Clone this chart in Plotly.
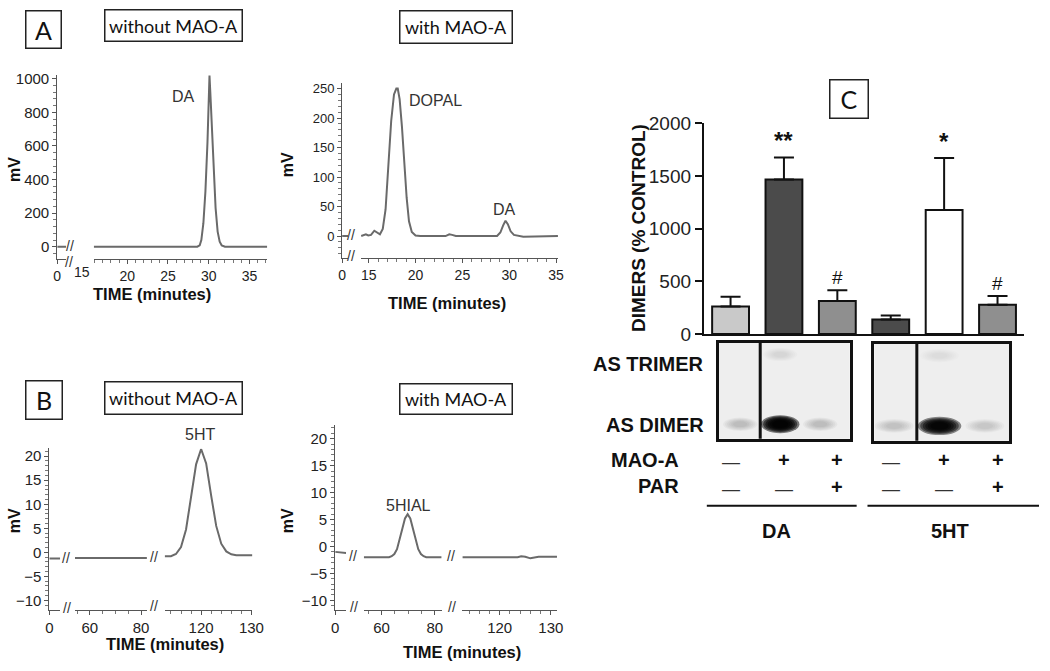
import plotly.graph_objects as go

W, H = 1050, 671
def fx(p): return p / W
def fy(p): return 1 - p / H

ARIAL = "Liberation Sans, Arial, Helvetica, sans-serif"
LATO = "Lato, Carlito, Calibri, sans-serif"

# ---------------- DATA ----------------
# Panel A - DA incubation chromatograms (time in minutes, signal in mV)
a_left_time = [15.9, 18.0, 20.0, 22.0, 23.6, 24.2, 24.8, 26.0, 28.6, 28.9, 29.1, 29.35, 29.6, 29.85, 30.0,
               30.1, 30.2, 30.35, 30.6, 30.85, 31.1, 31.35, 31.6, 32.0, 34.0, 37.2]
a_left_mv = [0, 0, 0, 0, 1, 4, 1, 0, 0, 8, 40, 140, 330, 620, 850,
             1020, 920, 760, 470, 230, 90, 30, 8, 0, 0, 0]
a_stub_time = [0, 1]
a_left_stub_mv = [0, 0]
a_right_stub_mv = [0, 0]
a_right_time = [14.2, 14.45, 14.7, 14.95, 15.25, 15.6, 15.9, 16.2, 16.5, 16.8, 17.1, 17.4, 17.7, 17.95, 18.1,
                18.3, 18.55, 18.8, 19.05, 19.3, 19.6, 20.0, 20.5, 23.2, 23.6, 23.9, 24.3, 28.7, 29.05, 29.35,
                29.6, 29.85, 30.15, 30.5, 31.0, 31.5, 35.2]
a_right_mv = [0, 2, 3, 1, 2, 9, 6, 3, 12, 45, 120, 195, 240, 250, 250,
              232, 185, 125, 65, 25, 7, 1, 0, 0, 3, 2, 0, 0, 6, 18,
              26, 20, 8, 2, 0, -1, 0]

# Panel B - 5HT incubation chromatograms (broken time axis)
b_stub_time = [0, 1]
b_left_stub_mv = [-1.3, -1.3]
b_left_mid_time = [54.2, 62, 70, 78, 82.3]
b_left_mid_mv = [-1.2, -1.2, -1.2, -1.2, -1.2]
b_left_late_time = [112.75, 114, 115, 116, 117, 118, 119, 120, 121, 122, 123, 124, 125, 126, 127, 130.2]
b_left_late_mv = [-0.8, -0.8, -0.35, 1.1, 4.75, 11.2, 18.3, 21.5, 18.5, 11.8, 5.5, 1.8, 0.2, -0.4, -0.6, -0.6]
b_right_stub_mv = [-1.0, -1.2]
b_right_mid_time = [53.3, 60, 62.8, 63.8, 64.8, 65.8, 66.8, 67.8, 68.8, 69.8, 70.8, 71.8, 72.8, 73.8, 74.8,
                    75.8, 76.8, 82.6]
b_right_mid_mv = [-2, -2, -2, -1.8, -1.4, -0.5, 1.2, 3.3, 5.2, 6.0, 5.2, 3.3, 1.2, -0.5, -1.4,
                  -1.8, -2, -2]
b_right_late_time = [112.7, 120, 123.5, 124.2, 125, 126, 127, 127.6, 131.2]
b_right_late_mv = [-2, -2, -2, -1.8, -1.9, -2.2, -2.0, -1.9, -1.9]

# Panel C - dimers (% control)
c_group = ["DA", "DA", "DA", "5HT", "5HT", "5HT"]
c_mean = [262, 1468, 314, 138, 1178, 277]
c_sem = [92, 209, 101, 37, 493, 83]
c_sig = ["", "**", "#", "", "*", "#"]
c_mao = ["—", "+", "+", "—", "+", "+"]
c_par = ["—", "—", "+", "—", "—", "+"]
group_names = ["DA", "5HT"]

# Western blot bands (gel, lane, row, relative intensity)
band_gel = ["DA", "DA", "DA", "DA", "5HT", "5HT", "5HT", "5HT"]
band_lane = [0, 1, 1, 2, 0, 1, 1, 2]
band_row = ["AS DIMER", "AS DIMER", "AS TRIMER", "AS DIMER", "AS DIMER", "AS DIMER", "AS TRIMER", "AS DIMER"]
band_int = [0.2, 1.0, 0.1, 0.2, 0.18, 0.97, 0.06, 0.15]
row_names = ["AS DIMER", "AS TRIMER"]

# ---------------- FIGURE ----------------
fig = go.Figure()
LINE = dict(color="#6a6a6a", width=2)

def add_line(x, y, xa, ya):
    fig.add_trace(go.Scatter(x=x, y=y, mode="lines", line=LINE, xaxis=xa, yaxis=ya,
                             hoverinfo="skip", showlegend=False))

add_line(a_stub_time, a_left_stub_mv, "x", "y")
add_line(a_left_time, a_left_mv, "x2", "y")
add_line(a_stub_time, a_right_stub_mv, "x3", "y2")
add_line(a_right_time, a_right_mv, "x4", "y2")
add_line(b_stub_time, b_left_stub_mv, "x5", "y3")
add_line(b_left_mid_time, b_left_mid_mv, "x6", "y3")
add_line(b_left_late_time, b_left_late_mv, "x7", "y3")
add_line(b_stub_time, b_right_stub_mv, "x8", "y4")
add_line(b_right_mid_time, b_right_mid_mv, "x9", "y4")
add_line(b_right_late_time, b_right_late_mv, "x10", "y4")

bar_colors = ["#c9c9c9", "#4b4b4b", "#8f8f8f", "#4b4b4b", "#ffffff", "#8f8f8f"]
fig.add_trace(go.Bar(
    x=list(range(len(c_mean))), y=c_mean, width=0.69, xaxis="x11", yaxis="y5",
    marker=dict(color=bar_colors, line=dict(color="#111", width=2)),
    error_y=dict(type="data", array=c_sem, arrayminus=[0] * len(c_sem), symmetric=False,
                 color="#111", thickness=2, width=10),
    hoverinfo="skip", showlegend=False))

# ---------------- AXES ----------------
AX = dict(showline=True, linecolor="#555", linewidth=1, ticks="outside", ticklen=4, tickcolor="#555",
          tickwidth=1, showgrid=False, zeroline=False)

def xa(d0, d1, rng, anchor, tickvals, minor=None, size=15):
    d = dict(AX, domain=[fx(d0), fx(d1)], range=rng, anchor=anchor, tickmode="array", tickvals=tickvals)
    d["tickfont"] = dict(family=ARIAL, size=size, color="#222")
    if minor:
        d["minor"] = dict(ticks="outside", ticklen=3, tickcolor="#777", dtick=minor, tick0=0, showgrid=False)
    return d

def ya(top, bottom, rng, anchor, dtick, minor, size=15):
    d = dict(AX, domain=[fy(bottom), fy(top)], range=rng, anchor=anchor, dtick=dtick, tick0=0)
    d["tickfont"] = dict(family=ARIAL, size=size, color="#222")
    d["minor"] = dict(ticks="outside", ticklen=3, tickcolor="#777", dtick=minor, tick0=0, showgrid=False)
    return d

layout_axes = dict(
    xaxis=xa(54, 63, [0, 1], "y", [0], size=14),
    xaxis2=xa(91, 267, [15.89, 37.18], "y", [20, 25, 30, 35], 1, size=14),
    yaxis=ya(68, 258, [-75, 1023], "x", 200, 40),
    xaxis3=xa(343, 349, [0, 1], "y2", [0], size=14),
    xaxis4=xa(362, 562, [14.16, 35.2], "y2", [15, 20, 25, 30, 35], 1, size=14),
    yaxis2=ya(76, 257, [-37.8, 259.9], "x3", 50, 10, size=13),
    xaxis5=xa(46, 57, [0, 1], "y3", [0]),
    xaxis6=xa(72, 145, [54.2, 82.3], "y3", [60, 80], 5),
    xaxis7=xa(163, 252, [112.75, 130.2], "y3", [120, 130], 2),
    yaxis3=ya(453, 619, [-11.9, 21.6], "x5", 5, 1),
    xaxis8=xa(336, 347, [0, 1], "y4", [0]),
    xaxis9=xa(365, 444, [53.3, 82.6], "y4", [60, 80], 5),
    xaxis10=xa(465, 561, [112.7, 131.2], "y4", [120, 130], 2),
    yaxis4=ya(429, 619, [-11.7, 22.5], "x8", 5, 1),
)
# bar chart axes
layout_axes["xaxis11"] = dict(domain=[fx(710), fx(1035)], range=[-0.5, 5.5], anchor="y5", showline=True,
                              linecolor="#111", linewidth=2, ticks="", showticklabels=False,
                              showgrid=False, zeroline=False)
layout_axes["yaxis5"] = dict(domain=[fy(335), fy(117)], range=[0, 2009], anchor="x11", showline=True,
                             linecolor="#111", linewidth=2, ticks="outside", ticklen=7, tickwidth=2,
                             tickcolor="#111", dtick=500, tick0=0, showgrid=False, zeroline=False,
                             tickfont=dict(family=ARIAL, size=19, color="#222"))
# blot axes
BLOT = dict(showline=True, mirror=True, linecolor="#111", linewidth=3, ticks="", showticklabels=False,
            showgrid=False, zeroline=False)
layout_axes["xaxis12"] = dict(BLOT, domain=[fx(725), fx(858)], range=[-0.54, 2.74], anchor="y6")
layout_axes["yaxis6"] = dict(BLOT, domain=[fy(443), fy(344)], range=[-0.21, 1.17], anchor="x12")
layout_axes["xaxis13"] = dict(BLOT, domain=[fx(883), fx(1020)], range=[-0.435, 2.54], anchor="y7")
layout_axes["yaxis7"] = dict(BLOT, domain=[fy(445), fy(345)], range=[-0.21, 1.17], anchor="x13")

fig.update_layout(**layout_axes)

# ---------------- SHAPES (blot) ----------------
shapes = []
gel_axes = {"DA": ("x12", "y6"), "5HT": ("x13", "y7")}
for g, (xr, yr) in gel_axes.items():
    shapes.append(dict(type="rect", xref=xr + " domain", yref=yr + " domain", x0=0, x1=1, y0=0, y1=1,
                       fillcolor="#eeeeee", line=dict(width=0), layer="below"))
    shapes.append(dict(type="line", xref=xr, yref=yr + " domain", x0=0.5, x1=0.5, y0=0, y1=1,
                       line=dict(color="#111", width=3)))

LAYERS = [1.3, 1.15, 1.0, 0.85, 0.7, 0.55]
for g, lane, row, inten in zip(band_gel, band_lane, band_row, band_int):
    xr, yr = gel_axes[g]
    yc = row_names.index(row)
    strong = inten > 0.5
    hw = 0.37 if strong else 0.33
    hh = 0.1 if strong else 0.075
    alpha = 1 - (1 - min(inten, 0.985)) ** (1 / len(LAYERS))
    for scale in LAYERS:
        shapes.append(dict(type="circle", xref=xr, yref=yr,
                           x0=lane - hw * scale, x1=lane + hw * scale,
                           y0=yc - hh * scale, y1=yc + hh * scale,
                           fillcolor=f"rgba(0,0,0,{alpha:.3f})", line=dict(width=0)))

# group underlines
for x0, x1 in [(713, 865), (876, 1050)]:
    shapes.append(dict(type="line", xref="paper", yref="paper", x0=fx(x0), x1=fx(x1), y0=fy(512), y1=fy(512),
                       line=dict(color="#111", width=2)))

# ---------------- ANNOTATIONS ----------------
anns = []
def ann(text, x, y, size, bold=False, family=ARIAL, color="#222", xanchor="center", yanchor="middle",
        angle=0, **kw):
    d = dict(text=text, x=fx(x), y=fy(y), xref="paper", yref="paper", showarrow=False,
             xanchor=xanchor, yanchor=yanchor, textangle=angle,
             font=dict(family=family, size=size, color=color, weight="bold" if bold else "normal"))
    d.update(kw)
    anns.append(d)

def box(text, cx, cy, w, h, size):
    ann(text, cx, cy, size, family=LATO, color="#111", bordercolor="#222", borderwidth=1.5, borderpad=0,
        width=w - 3, height=h - 3)

box("A", 40.5, 21.5, 37, 39, 25)
box("without MAO-A", 171.5, 17.5, 139, 33, 18)
box("with MAO-A", 459, 19, 114, 34, 18)
box("B", 41, 403, 38, 40, 25)
box("without MAO-A", 171.5, 401, 139, 34, 18)
box("with MAO-A", 459, 402, 114, 32, 18)
box("C", 857, 93, 40, 40, 25)

# axis titles
for x, y in [(10, 165), (287, 160), (10, 527), (287, 527)]:
    ann("mV", x, y, 16, bold=True, color="#111", angle=-90)
for x, y in [(150, 294), (449, 303), (163, 654), (465, 663)]:
    ann("TIME (minutes)", x, y, 16.5, bold=True, color="#111")
ann("15", 79, 271, 14)

# peak labels
ann("DA", 182, 90, 16, color="#333")
ann("DOPAL", 438, 94, 16, color="#333")
ann("DA", 508, 207, 16, color="#333")
ann("5HT", 199, 439, 16, color="#333")
ann("5HIAL", 410, 512, 16, color="#333")

# break marks
for x, y in [(67, 244), (66, 261), (352, 233), (352, 255), (63, 566), (64, 617), (152, 565), (152, 615),
             (354, 564), (355, 616), (453, 564), (454, 616)]:
    ann("//", x, y, 14, color="#333")

# panel C texts
ann("DIMERS (% CONTROL)", 643, 226, 19, bold=True, color="#111", angle=-90)
ann("AS TRIMER", 712, 366, 20, bold=True, color="#111", xanchor="right")
ann("AS DIMER", 712, 429, 20, bold=True, color="#111", xanchor="right")
ann("MAO-A", 687, 465, 20, bold=True, color="#111", xanchor="right")
ann("PAR", 687, 492, 20, bold=True, color="#111", xanchor="right")

for i, s in enumerate(c_sig):
    if s:
        star = s.startswith("*")
        anns.append(dict(text=s, x=i, y=c_mean[i] + c_sem[i], xref="x11", yref="y5", showarrow=False,
                         xanchor="center", yanchor="middle", yshift=17 if star else 13,
                         font=dict(family=ARIAL, size=24 if star else 19, color="#111",
                                   weight="bold" if star else "normal")))

for row_signs, ypx in [(c_mao, 465), (c_par, 493)]:
    for i, s in enumerate(row_signs):
        plus = s == "+"
        anns.append(dict(text=s, x=i, y=fy(ypx), xref="x11", yref="paper", showarrow=False,
                         xanchor="center", yanchor="middle", yshift=0 if plus else -2,
                         font=dict(family=ARIAL, size=20 if plus else 18, color="#111" if plus else "#333",
                                   weight="bold" if plus else "normal")))

group_label_px = {"DA": 784, "5HT": 960}
for g in group_names:
    ann(g, group_label_px[g], 538, 20, bold=True, color="#111")

fig.update_layout(
    width=W, height=H, margin=dict(l=0, r=0, t=0, b=0),
    paper_bgcolor="white", plot_bgcolor="white", showlegend=False,
    shapes=shapes, annotations=anns,
    modebar=dict(bgcolor="rgba(0,0,0,0)", color="rgba(0,0,0,0)", activecolor="rgba(0,0,0,0)"),
)

fig.write_html("out.html", config={"displayModeBar": False},
               post_script="document.body.style.margin='0';document.body.style.padding='0';")
